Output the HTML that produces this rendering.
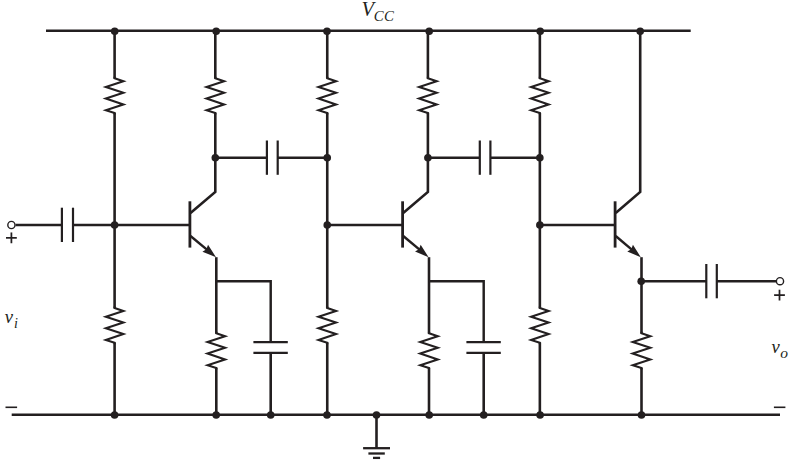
<!DOCTYPE html>
<html><head><meta charset="utf-8"><title>Circuit</title>
<style>
html,body{margin:0;padding:0;background:#fff;}
body{width:791px;height:463px;overflow:hidden;}
svg{display:block;}
text{font-family:"Liberation Serif",serif;font-style:italic;fill:#231f20;}
</style></head>
<body>
<svg width="791" height="463" viewBox="0 0 791 463">
<rect width="791" height="463" fill="#fff"/>
<line x1="46.00" y1="30.80" x2="690.70" y2="30.80" stroke="#231f20" stroke-width="2.5" stroke-linecap="butt"/>
<line x1="11.70" y1="414.70" x2="780.00" y2="414.70" stroke="#231f20" stroke-width="2.5" stroke-linecap="butt"/>
<line x1="114.60" y1="30.80" x2="114.60" y2="78.60" stroke="#231f20" stroke-width="2.6" stroke-linecap="butt"/>
<line x1="114.60" y1="112.80" x2="114.60" y2="226.00" stroke="#231f20" stroke-width="2.6" stroke-linecap="butt"/>
<path d="M114.60,76.80 L114.60,78.30 L123.35,81.20 L105.85,87.00 L123.35,92.80 L105.85,98.60 L123.35,104.40 L105.85,110.20 L114.60,113.10 L114.60,114.60" fill="none" stroke="#231f20" stroke-width="2.1" stroke-linejoin="miter" stroke-miterlimit="6" />
<line x1="114.60" y1="225.00" x2="114.60" y2="308.30" stroke="#231f20" stroke-width="2.6" stroke-linecap="butt"/>
<line x1="114.60" y1="342.50" x2="114.60" y2="414.70" stroke="#231f20" stroke-width="2.6" stroke-linecap="butt"/>
<path d="M114.60,306.50 L114.60,308.00 L123.35,310.90 L105.85,316.70 L123.35,322.50 L105.85,328.30 L123.35,334.10 L105.85,339.90 L114.60,342.80 L114.60,344.30" fill="none" stroke="#231f20" stroke-width="2.1" stroke-linejoin="miter" stroke-miterlimit="6" />
<line x1="327.25" y1="30.80" x2="327.25" y2="78.60" stroke="#231f20" stroke-width="2.6" stroke-linecap="butt"/>
<line x1="327.25" y1="112.80" x2="327.25" y2="226.00" stroke="#231f20" stroke-width="2.6" stroke-linecap="butt"/>
<path d="M327.25,76.80 L327.25,78.30 L336.00,81.20 L318.50,87.00 L336.00,92.80 L318.50,98.60 L336.00,104.40 L318.50,110.20 L327.25,113.10 L327.25,114.60" fill="none" stroke="#231f20" stroke-width="2.1" stroke-linejoin="miter" stroke-miterlimit="6" />
<line x1="327.25" y1="225.00" x2="327.25" y2="308.30" stroke="#231f20" stroke-width="2.6" stroke-linecap="butt"/>
<line x1="327.25" y1="342.50" x2="327.25" y2="414.70" stroke="#231f20" stroke-width="2.6" stroke-linecap="butt"/>
<path d="M327.25,306.50 L327.25,308.00 L336.00,310.90 L318.50,316.70 L336.00,322.50 L318.50,328.30 L336.00,334.10 L318.50,339.90 L327.25,342.80 L327.25,344.30" fill="none" stroke="#231f20" stroke-width="2.1" stroke-linejoin="miter" stroke-miterlimit="6" />
<line x1="539.85" y1="30.80" x2="539.85" y2="78.60" stroke="#231f20" stroke-width="2.6" stroke-linecap="butt"/>
<line x1="539.85" y1="112.80" x2="539.85" y2="226.00" stroke="#231f20" stroke-width="2.6" stroke-linecap="butt"/>
<path d="M539.85,76.80 L539.85,78.30 L548.60,81.20 L531.10,87.00 L548.60,92.80 L531.10,98.60 L548.60,104.40 L531.10,110.20 L539.85,113.10 L539.85,114.60" fill="none" stroke="#231f20" stroke-width="2.1" stroke-linejoin="miter" stroke-miterlimit="6" />
<line x1="539.85" y1="225.00" x2="539.85" y2="308.30" stroke="#231f20" stroke-width="2.6" stroke-linecap="butt"/>
<line x1="539.85" y1="342.50" x2="539.85" y2="414.70" stroke="#231f20" stroke-width="2.6" stroke-linecap="butt"/>
<path d="M539.85,306.50 L539.85,308.00 L548.60,310.90 L531.10,316.70 L548.60,322.50 L531.10,328.30 L548.60,334.10 L531.10,339.90 L539.85,342.80 L539.85,344.30" fill="none" stroke="#231f20" stroke-width="2.1" stroke-linejoin="miter" stroke-miterlimit="6" />
<line x1="189.90" y1="201.30" x2="189.90" y2="247.60" stroke="#231f20" stroke-width="2.8" stroke-linecap="butt"/>
<line x1="215.30" y1="30.80" x2="215.30" y2="78.60" stroke="#231f20" stroke-width="2.6" stroke-linecap="butt"/>
<path d="M215.30,76.80 L215.30,78.30 L224.05,81.20 L206.55,87.00 L224.05,92.80 L206.55,98.60 L224.05,104.40 L206.55,110.20 L215.30,113.10 L215.30,114.60" fill="none" stroke="#231f20" stroke-width="2.1" stroke-linejoin="miter" stroke-miterlimit="6" />
<path d="M215.30,112.80 L215.30,192.00 L190.50,213.00" fill="none" stroke="#231f20" stroke-width="2.6" stroke-linejoin="miter" stroke-miterlimit="6" />
<line x1="190.50" y1="236.00" x2="207.54" y2="250.17" stroke="#231f20" stroke-width="2.4" stroke-linecap="butt"/>
<path d="M216.00,257.20 L202.42,251.63 L206.39,249.21 L208.05,244.87 Z" fill="#231f20"/>
<line x1="402.60" y1="201.30" x2="402.60" y2="247.60" stroke="#231f20" stroke-width="2.8" stroke-linecap="butt"/>
<line x1="427.90" y1="30.80" x2="427.90" y2="78.60" stroke="#231f20" stroke-width="2.6" stroke-linecap="butt"/>
<path d="M427.90,76.80 L427.90,78.30 L436.65,81.20 L419.15,87.00 L436.65,92.80 L419.15,98.60 L436.65,104.40 L419.15,110.20 L427.90,113.10 L427.90,114.60" fill="none" stroke="#231f20" stroke-width="2.1" stroke-linejoin="miter" stroke-miterlimit="6" />
<path d="M427.90,112.80 L427.90,192.00 L403.20,213.00" fill="none" stroke="#231f20" stroke-width="2.6" stroke-linejoin="miter" stroke-miterlimit="6" />
<line x1="403.20" y1="236.00" x2="420.16" y2="250.15" stroke="#231f20" stroke-width="2.4" stroke-linecap="butt"/>
<path d="M428.60,257.20 L415.03,251.61 L419.00,249.19 L420.67,244.85 Z" fill="#231f20"/>
<line x1="615.10" y1="201.30" x2="615.10" y2="247.60" stroke="#231f20" stroke-width="2.8" stroke-linecap="butt"/>
<path d="M640.20,30.80 L640.20,192.00 L615.70,213.00" fill="none" stroke="#231f20" stroke-width="2.6" stroke-linejoin="miter" stroke-miterlimit="6" />
<line x1="615.70" y1="236.00" x2="632.40" y2="250.10" stroke="#231f20" stroke-width="2.4" stroke-linecap="butt"/>
<path d="M640.80,257.20 L627.27,251.53 L631.25,249.13 L632.94,244.80 Z" fill="#231f20"/>
<line x1="216.30" y1="257.20" x2="216.30" y2="333.60" stroke="#231f20" stroke-width="2.6" stroke-linecap="butt"/>
<line x1="216.30" y1="367.80" x2="216.30" y2="414.70" stroke="#231f20" stroke-width="2.6" stroke-linecap="butt"/>
<path d="M216.30,331.80 L216.30,333.30 L225.05,336.20 L207.55,342.00 L225.05,347.80 L207.55,353.60 L225.05,359.40 L207.55,365.20 L216.30,368.10 L216.30,369.60" fill="none" stroke="#231f20" stroke-width="2.1" stroke-linejoin="miter" stroke-miterlimit="6" />
<line x1="429.00" y1="257.20" x2="429.00" y2="333.60" stroke="#231f20" stroke-width="2.6" stroke-linecap="butt"/>
<line x1="429.00" y1="367.80" x2="429.00" y2="414.70" stroke="#231f20" stroke-width="2.6" stroke-linecap="butt"/>
<path d="M429.00,331.80 L429.00,333.30 L437.75,336.20 L420.25,342.00 L437.75,347.80 L420.25,353.60 L437.75,359.40 L420.25,365.20 L429.00,368.10 L429.00,369.60" fill="none" stroke="#231f20" stroke-width="2.1" stroke-linejoin="miter" stroke-miterlimit="6" />
<line x1="641.50" y1="257.20" x2="641.50" y2="333.60" stroke="#231f20" stroke-width="2.6" stroke-linecap="butt"/>
<line x1="641.50" y1="367.80" x2="641.50" y2="414.70" stroke="#231f20" stroke-width="2.6" stroke-linecap="butt"/>
<path d="M641.50,331.80 L641.50,333.30 L650.25,336.20 L632.75,342.00 L650.25,347.80 L632.75,353.60 L650.25,359.40 L632.75,365.20 L641.50,368.10 L641.50,369.60" fill="none" stroke="#231f20" stroke-width="2.1" stroke-linejoin="miter" stroke-miterlimit="6" />
<path d="M215.90,281.20 L270.70,281.20 L270.70,342.00" fill="none" stroke="#231f20" stroke-width="2.45" stroke-linejoin="miter" stroke-miterlimit="6" />
<line x1="253.40" y1="342.05" x2="287.80" y2="342.05" stroke="#231f20" stroke-width="2.2" stroke-linecap="butt"/>
<line x1="253.40" y1="352.85" x2="287.80" y2="352.85" stroke="#231f20" stroke-width="2.2" stroke-linecap="butt"/>
<line x1="270.70" y1="352.80" x2="270.70" y2="414.70" stroke="#231f20" stroke-width="2.6" stroke-linecap="butt"/>
<path d="M428.50,281.20 L483.70,281.20 L483.70,342.00" fill="none" stroke="#231f20" stroke-width="2.45" stroke-linejoin="miter" stroke-miterlimit="6" />
<line x1="466.40" y1="342.05" x2="500.80" y2="342.05" stroke="#231f20" stroke-width="2.2" stroke-linecap="butt"/>
<line x1="466.40" y1="352.85" x2="500.80" y2="352.85" stroke="#231f20" stroke-width="2.2" stroke-linecap="butt"/>
<line x1="483.70" y1="352.80" x2="483.70" y2="414.70" stroke="#231f20" stroke-width="2.6" stroke-linecap="butt"/>
<line x1="114.60" y1="225.00" x2="189.90" y2="225.00" stroke="#231f20" stroke-width="2.3" stroke-linecap="butt"/>
<line x1="327.25" y1="225.00" x2="402.60" y2="225.00" stroke="#231f20" stroke-width="2.3" stroke-linecap="butt"/>
<line x1="539.85" y1="225.00" x2="615.10" y2="225.00" stroke="#231f20" stroke-width="2.3" stroke-linecap="butt"/>
<line x1="15.50" y1="225.00" x2="61.90" y2="225.00" stroke="#231f20" stroke-width="2.3" stroke-linecap="butt"/>
<line x1="73.00" y1="225.00" x2="114.60" y2="225.00" stroke="#231f20" stroke-width="2.3" stroke-linecap="butt"/>
<line x1="61.90" y1="207.70" x2="61.90" y2="242.00" stroke="#231f20" stroke-width="2.2" stroke-linecap="butt"/>
<line x1="73.00" y1="207.70" x2="73.00" y2="242.00" stroke="#231f20" stroke-width="2.2" stroke-linecap="butt"/>
<line x1="215.90" y1="157.80" x2="266.90" y2="157.80" stroke="#231f20" stroke-width="2.5" stroke-linecap="butt"/>
<line x1="277.70" y1="157.80" x2="327.25" y2="157.80" stroke="#231f20" stroke-width="2.5" stroke-linecap="butt"/>
<line x1="266.90" y1="140.50" x2="266.90" y2="174.80" stroke="#231f20" stroke-width="2.2" stroke-linecap="butt"/>
<line x1="277.70" y1="140.50" x2="277.70" y2="174.80" stroke="#231f20" stroke-width="2.2" stroke-linecap="butt"/>
<line x1="428.50" y1="157.80" x2="479.80" y2="157.80" stroke="#231f20" stroke-width="2.5" stroke-linecap="butt"/>
<line x1="490.40" y1="157.80" x2="539.85" y2="157.80" stroke="#231f20" stroke-width="2.5" stroke-linecap="butt"/>
<line x1="479.80" y1="140.50" x2="479.80" y2="174.80" stroke="#231f20" stroke-width="2.2" stroke-linecap="butt"/>
<line x1="490.40" y1="140.50" x2="490.40" y2="174.80" stroke="#231f20" stroke-width="2.2" stroke-linecap="butt"/>
<line x1="640.70" y1="281.30" x2="706.30" y2="281.30" stroke="#231f20" stroke-width="2.5" stroke-linecap="butt"/>
<line x1="716.80" y1="281.30" x2="776.00" y2="281.30" stroke="#231f20" stroke-width="2.5" stroke-linecap="butt"/>
<line x1="706.30" y1="264.00" x2="706.30" y2="298.30" stroke="#231f20" stroke-width="2.2" stroke-linecap="butt"/>
<line x1="716.80" y1="264.00" x2="716.80" y2="298.30" stroke="#231f20" stroke-width="2.2" stroke-linecap="butt"/>
<line x1="376.50" y1="414.70" x2="376.50" y2="448.10" stroke="#231f20" stroke-width="2.6" stroke-linecap="butt"/>
<line x1="363.10" y1="448.20" x2="390.00" y2="448.20" stroke="#231f20" stroke-width="2.3" stroke-linecap="butt"/>
<line x1="368.40" y1="453.50" x2="384.80" y2="453.50" stroke="#231f20" stroke-width="2.3" stroke-linecap="butt"/>
<line x1="373.00" y1="457.90" x2="380.10" y2="457.90" stroke="#231f20" stroke-width="2.3" stroke-linecap="butt"/>
<circle cx="114.70" cy="31.30" r="3.8" fill="#231f20"/>
<circle cx="216.20" cy="31.30" r="3.8" fill="#231f20"/>
<circle cx="327.00" cy="31.30" r="3.8" fill="#231f20"/>
<circle cx="429.20" cy="31.30" r="3.8" fill="#231f20"/>
<circle cx="540.20" cy="31.30" r="3.8" fill="#231f20"/>
<circle cx="640.20" cy="31.30" r="3.8" fill="#231f20"/>
<circle cx="114.60" cy="415.00" r="3.8" fill="#231f20"/>
<circle cx="216.20" cy="415.00" r="3.8" fill="#231f20"/>
<circle cx="270.70" cy="415.00" r="3.8" fill="#231f20"/>
<circle cx="327.00" cy="415.00" r="3.8" fill="#231f20"/>
<circle cx="376.50" cy="415.00" r="3.8" fill="#231f20"/>
<circle cx="429.20" cy="415.00" r="3.8" fill="#231f20"/>
<circle cx="483.70" cy="415.00" r="3.8" fill="#231f20"/>
<circle cx="540.10" cy="415.00" r="3.8" fill="#231f20"/>
<circle cx="641.50" cy="415.00" r="3.8" fill="#231f20"/>
<circle cx="114.60" cy="225.00" r="3.8" fill="#231f20"/>
<circle cx="327.25" cy="225.00" r="3.8" fill="#231f20"/>
<circle cx="539.85" cy="225.00" r="3.8" fill="#231f20"/>
<circle cx="215.30" cy="157.80" r="3.8" fill="#231f20"/>
<circle cx="327.25" cy="157.80" r="3.8" fill="#231f20"/>
<circle cx="427.90" cy="157.80" r="3.8" fill="#231f20"/>
<circle cx="539.85" cy="157.80" r="3.8" fill="#231f20"/>
<circle cx="641.20" cy="281.20" r="3.8" fill="#231f20"/>
<circle cx="11.4" cy="225.0" r="3.6" fill="#fff" stroke="#231f20" stroke-width="1.4"/>
<circle cx="780" cy="281.2" r="3.6" fill="#fff" stroke="#231f20" stroke-width="1.4"/>
<line x1="6.00" y1="237.85" x2="16.80" y2="237.85" stroke="#231f20" stroke-width="1.75" stroke-linecap="butt"/>
<line x1="11.40" y1="232.45" x2="11.40" y2="243.25" stroke="#231f20" stroke-width="1.75" stroke-linecap="butt"/>
<line x1="774.10" y1="295.10" x2="784.90" y2="295.10" stroke="#231f20" stroke-width="1.75" stroke-linecap="butt"/>
<line x1="779.50" y1="289.70" x2="779.50" y2="300.50" stroke="#231f20" stroke-width="1.75" stroke-linecap="butt"/>
<line x1="5.50" y1="407.30" x2="17.10" y2="407.30" stroke="#231f20" stroke-width="1.6" stroke-linecap="butt"/>
<line x1="773.90" y1="407.30" x2="785.40" y2="407.30" stroke="#231f20" stroke-width="1.6" stroke-linecap="butt"/>
<text x="361.6" y="15.5" font-size="20.5" >V</text>
<text x="373.8" y="20.5" font-size="14.8" letter-spacing="0.4">CC</text>
<text x="4.8" y="322.8" font-size="18.6" >v</text>
<text x="13.9" y="327.6" font-size="14" >i</text>
<text x="771.5" y="353.4" font-size="18.6" >v</text>
<text x="780.3" y="358.3" font-size="15.5" >o</text>
</svg>
</body></html>
